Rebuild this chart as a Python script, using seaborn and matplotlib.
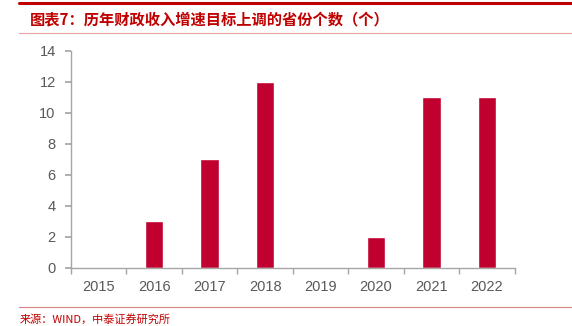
import matplotlib
matplotlib.use("Agg")
import matplotlib.pyplot as plt
import seaborn as sns
import pandas as pd
from matplotlib.lines import Line2D

years = ["2015", "2016", "2017", "2018", "2019", "2020", "2021", "2022"]
counts = [0, 3, 7, 12, 0, 2, 11, 11]
yticks = [0, 2, 4, 6, 8, 10, 12, 14]
title = "图表7：历年财政收入增速目标上调的省份个数（个）"
source = "来源：WIND，中泰证券研究所"

sns.set_theme(style="white")
plt.rcParams['font.family'] = ['Noto Sans CJK SC', 'DejaVu Sans']

df = pd.DataFrame({"year": years, "count": counts})

fig = plt.figure(figsize=(5.72, 3.26), dpi=100)
ax = fig.add_axes([0.124, 0.178, 0.776, 0.6656])
sns.barplot(data=df, x="year", y="count", color="#C0002F", width=0.33,
            saturation=1, ax=ax)

ax.set_ylim(0, 14)
ax.set_xlim(-0.5, len(years) - 0.5)
ax.set_yticks(yticks)
ax.set_yticklabels([str(v) for v in yticks])
ax.set_xlabel("")
ax.set_ylabel("")
for s in ["top", "right"]:
    ax.spines[s].set_visible(False)
for s in ["left", "bottom"]:
    ax.spines[s].set_color("#A6A6A6")
    ax.spines[s].set_linewidth(1.0)

ax.tick_params(axis="y", which="both", direction="out", length=4, color="#A6A6A6",
               labelsize=10.5, labelcolor="#595959", left=True, pad=7)
ax.set_xticks(range(len(years)))
ax.set_xticklabels(years)
ax.tick_params(axis="x", which="major", length=0, labelsize=10.5, labelcolor="#595959", pad=9)
ax.set_xticks([i - 0.5 for i in range(len(years) + 1)], minor=True)
ax.tick_params(axis="x", which="minor", direction="out", length=4, color="#A6A6A6", bottom=True)
for lab in ax.get_xticklabels() + ax.get_yticklabels():
    lab.set_family(["Liberation Sans", "DejaVu Sans"])

# decorations
fig.add_artist(Line2D([0.033, 1.0], [0.99, 0.99], transform=fig.transFigure,
                      color="#C00000", linewidth=2.2))
fig.add_artist(Line2D([0.033, 1.0], [0.898, 0.898], transform=fig.transFigure,
                      color="#E8A0A0", linewidth=0.8))
fig.add_artist(Line2D([0.033, 1.0], [0.058, 0.058], transform=fig.transFigure,
                      color="#D98080", linewidth=0.8))
fig.text(0.052, 0.94, title, color="#C00000", fontsize=11, fontweight="bold",
         ha="left", va="center", style="italic")
fig.text(0.035, 0.022, source, color="#C00000", fontsize=8, ha="left", va="center")

fig.savefig("out.png", dpi=100)
